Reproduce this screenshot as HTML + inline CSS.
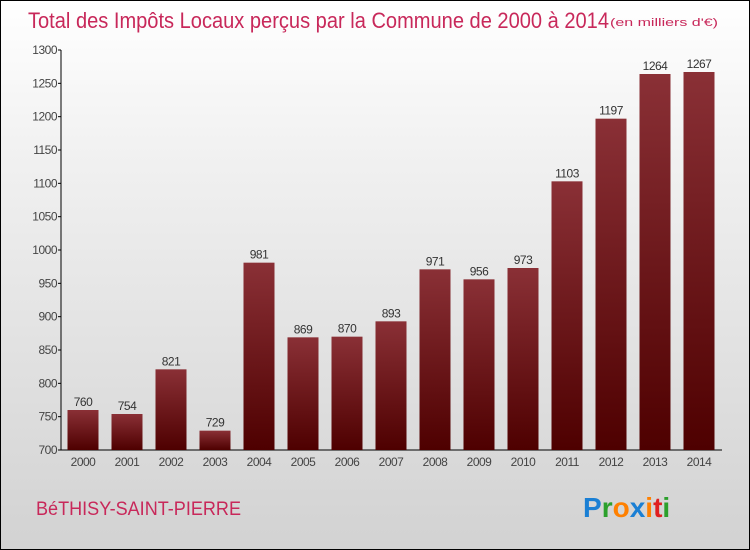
<!DOCTYPE html>
<html><head><meta charset="utf-8"><style>
body{margin:0}
#wrap{position:relative;width:748px;height:548px;border:1px solid #000;background:linear-gradient(#ffffff,#f0f0f0 30%,#d2d2d2);overflow:hidden;font-family:"Liberation Sans",sans-serif}
</style></head><body>
<div id="wrap">
<svg width="748" height="548" xmlns="http://www.w3.org/2000/svg">
<defs><linearGradient id="bg" x1="0" y1="0" x2="0" y2="1"><stop offset="0" stop-color="#8a3036"/><stop offset="1" stop-color="#4e0000"/></linearGradient></defs>
<text x="27" y="27" font-size="22" fill="#c8285a" textLength="581" lengthAdjust="spacingAndGlyphs">Total des Impôts Locaux perçus par la Commune de 2000 à 2014</text>
<text x="609" y="25" font-size="11" fill="#c8285a" textLength="108" lengthAdjust="spacingAndGlyphs">(en milliers d'€)</text>
<g id="axes"></g><g id="bars"></g>
<text x="35" y="514" font-size="19" fill="#c8285a" textLength="205" lengthAdjust="spacingAndGlyphs">BéTHISY-SAINT-PIERRE</text>
<g font-size="28" font-weight="bold" font-family="Liberation Sans,sans-serif">
<text x="582" y="516"><tspan fill="#1a7fd4">P</tspan><tspan fill="#2ca02c">r</tspan><tspan fill="#ff8000">o</tspan><tspan fill="#1a7fd4">x</tspan><tspan fill="#ff8000">i</tspan><tspan fill="#e02020">t</tspan><tspan fill="#2ca02c">i</tspan></text></g>
</svg>
<script>
const categories=["2000","2001","2002","2003","2004","2005","2006","2007","2008","2009","2010","2011","2012","2013","2014"];
const values=[760,754,821,729,981,869,870,893,971,956,973,1103,1197,1264,1267];
const yTicks=[700,750,800,850,900,950,1000,1050,1100,1150,1200,1250,1300];
const NS="http://www.w3.org/2000/svg";
const y0=449,y1=49,vmin=700,vmax=1300;
function y(v){return y0-(v-vmin)/(vmax-vmin)*(y0-y1);}
function x(i){return 82+i*44;}
function mk(t,a,p){const e=document.createElementNS(NS,t);for(const k in a)e.setAttribute(k,a[k]);p.appendChild(e);return e;}
const ax=document.getElementById('axes'),bg=document.getElementById('bars');
const yl=mk('line',{x1:60,y1:y1,x2:60,y2:y0,stroke:'#000'},ax);


const xl=mk('line',{x1:60,y1:y0,x2:721,y2:y0,stroke:'#000'},ax);


yTicks.forEach(v=>{
 mk('line',{x1:57,x2:60,y1:y(v),y2:y(v),stroke:'#000'},ax);
 const t=mk('text',{x:56,y:y(v)+4,'text-anchor':'end','font-size':12,fill:'#444','letter-spacing':'-0.5'},ax);
 t.textContent=v;
 
 
});
categories.forEach((c,i)=>{
 const v=values[i];
 const r=mk('rect',{x:x(i)-15.5,y:y(v),width:31,height:y0-y(v),fill:'url(#bg)'},bg);
 
 
 const l=mk('text',{x:x(i),y:y(v)-4,'text-anchor':'middle','font-size':12,fill:'#333','letter-spacing':'-0.5'},bg);
 l.textContent=v;
 
 
 const t=mk('text',{x:x(i),y:465,'text-anchor':'middle','font-size':12,fill:'#444','letter-spacing':'-0.5'},ax);
 t.textContent=c;
 
 
});
</script>
</div>
</body></html>
